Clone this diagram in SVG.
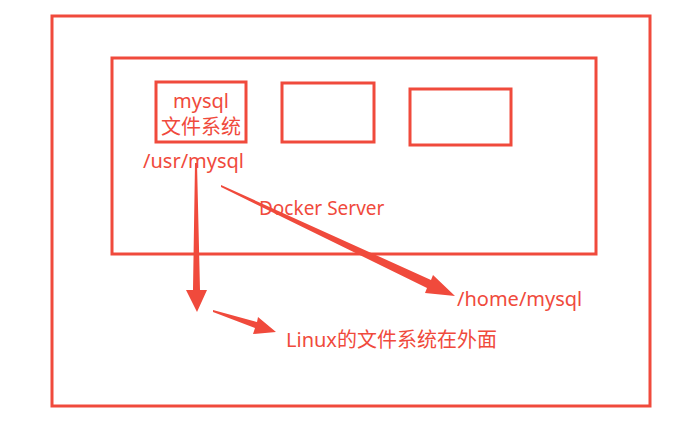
<svg xmlns="http://www.w3.org/2000/svg" width="692" height="421" viewBox="0 0 692 421">
<style>
.b{fill:none;stroke:#f04a3c;stroke-width:3}
.t{fill:#f04a3c;font-family:"Noto Sans","Noto Sans CJK SC",sans-serif;font-size:20px}
.a{fill:#f04a3c}
</style>
<rect width="692" height="421" fill="#fff"/>
<g id="outer"><rect class="b" x="52" y="16" width="598" height="390"/></g>
<g id="docker"><rect class="b" x="112" y="58" width="484" height="196"/>
<text class="t" x="259" y="215" style="font-size:19px">Docker Server</text></g>
<g id="mysql"><rect class="b" x="156" y="82" width="90" height="60"/>
<text class="t" x="201" y="108" text-anchor="middle">mysql</text>
<text class="t" x="201" y="134" text-anchor="middle">文件系统</text>
<text class="t" x="143" y="168">/usr/mysql</text></g>
<g id="box2"><rect class="b" x="282" y="83" width="92" height="59"/></g>
<g id="box3"><rect class="b" x="410" y="89" width="101" height="56"/></g>
<g id="home"><text class="t" x="457" y="306">/home/mysql</text></g>
<g id="linux"><text class="t" x="286" y="347">Linux的文件系统在外面</text></g>
<g id="connectors">
<polygon class="a" points="195,163 197,163 200,290 207,290 197,312 186,290 193,290"/>
<polygon class="a" points="221,185 221,187 427,288 425,293 455,296 433,275 431,280"/>
<polygon class="a" points="213,310 213,312 255,328 253,334 276,332 258,317 257,322"/>
</g>
</svg>
